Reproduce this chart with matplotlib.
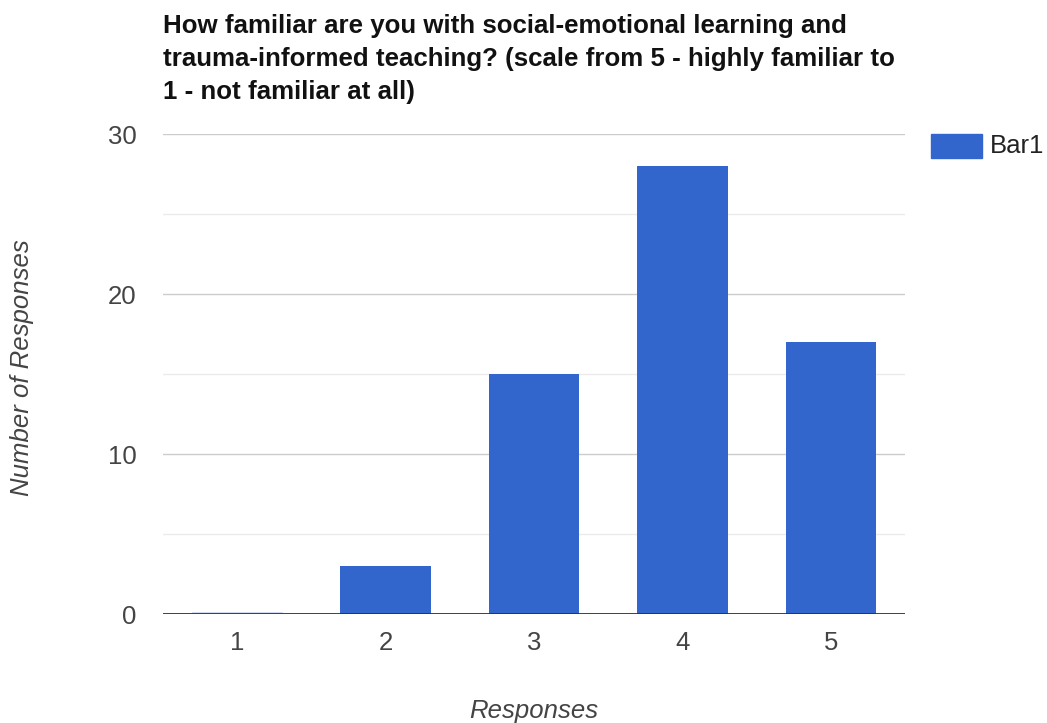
import matplotlib.pyplot as plt
from matplotlib.patches import Rectangle

plt.rcParams['font.family'] = ['Liberation Sans', 'DejaVu Sans']

# survey data
responses = [1, 2, 3, 4, 5]
counts = [0, 3, 15, 28, 17]
series_name = "Bar1"
title_lines = ["How familiar are you with social-emotional learning and",
               "trauma-informed teaching? (scale from 5 - highly familiar to",
               "1 - not familiar at all)"]

bar_color = '#3366cc'
text_color = '#444444'
fs = 18.5

fig = plt.figure(figsize=(10.47, 7.23), dpi=100)
ax = fig.add_axes([163 / 1047, 1 - 614 / 723, (905 - 163) / 1047, (614 - 134) / 723])

# gridlines: major every 10, minor every 5
for y in [5, 15, 25]:
    ax.axhline(y, color='#ebebeb', lw=1, zorder=0)
for y in [10, 20, 30]:
    ax.axhline(y, color='#cccccc', lw=1, zorder=0)

ax.bar(responses, counts, width=0.61, color=bar_color, zorder=2)
# zero-height bar shows up as a faint line
for x, c in zip(responses, counts):
    if c == 0:
        ax.plot([x - 0.3, x + 0.3], [0.05, 0.05], color='#c8d4ef', lw=1.2, zorder=2)

ax.axhline(0, color='#333333', lw=1.3, zorder=3)

ax.set_xlim(0.5, 5.5)
ax.set_ylim(0, 30)
ax.set_xticks(responses)
ax.set_yticks([0, 10, 20, 30])
ax.tick_params(length=0, labelsize=fs, colors=text_color)
ax.tick_params(axis='x', pad=12)
ax.tick_params(axis='y', pad=19)
for s in ax.spines.values():
    s.set_visible(False)

ax.set_xlabel("Responses", fontsize=fs, style='italic', color=text_color, va='center')
ax.xaxis.set_label_coords(0.5, (614 - 711) / 480)
ax.set_ylabel("Number of Responses", fontsize=fs, style='italic', color=text_color, va='center')
ax.yaxis.set_label_coords((22 - 163) / 742, (614 - 368) / 480)

# title, one line at a time so the baselines match
for i, line in enumerate(title_lines):
    fig.text(163 / 1047, 1 - (33 + 33 * i) / 723, line, fontsize=18.6, fontweight='bold',
             color='#111111', ha='left', va='baseline')

# legend
fig.patches.append(Rectangle((931 / 1047, 1 - 158 / 723), 51 / 1047, 24 / 723,
                             transform=fig.transFigure, color=bar_color))
fig.text(990 / 1047, 1 - 146 / 723, series_name, fontsize=fs, color='#222222',
         ha='left', va='center')

fig.savefig("out.png", dpi=100)
